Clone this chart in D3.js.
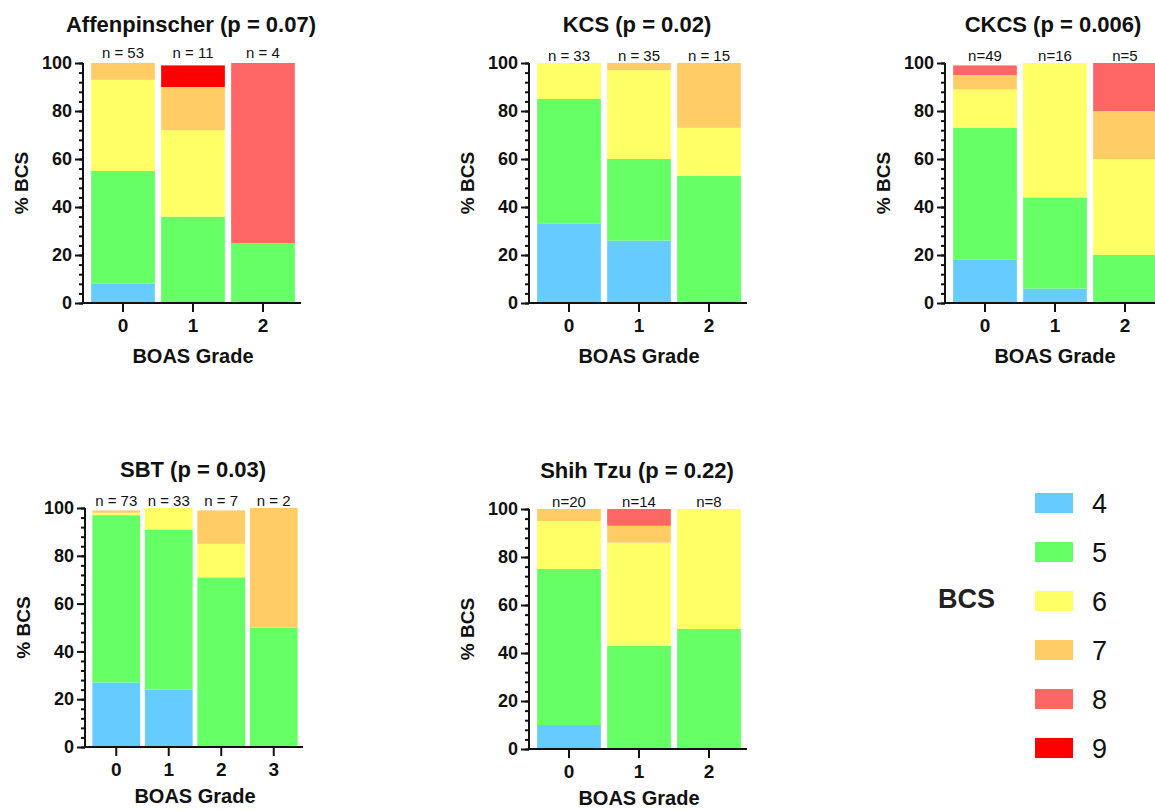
<!DOCTYPE html>
<html>
<head>
<meta charset="utf-8">
<script src="https://cdn.jsdelivr.net/npm/d3@7"></script>
<style>
  body { margin: 0; background: #fff; }
  svg { display: block; font-family: 'Liberation Sans', Arial, Helvetica, sans-serif; }
  .axis path, .axis line { stroke: #111; stroke-width: 2; }
  .axis text { font-family: 'Liberation Sans', Arial, Helvetica, sans-serif; font-weight: bold; fill: #111; }
  .y-axis text { font-size: 18px; }
  .x-axis text { font-size: 19px; }
</style>
</head>
<body>
<div id="chart"></div>
<script>
// BCS categories and their colours
const bcsLevels = ['4', '5', '6', '7', '8', '9']
const bcsColors = ['#66ccff', '#66ff66', '#ffff66', '#ffcc66', '#ff6666', '#ff0000']
const yTicks = [0, 20, 40, 60, 80, 100]

// percentages per BOAS grade, in order BCS 4..9
const affenGrades = ['0', '1', '2']
const affenN = ['n = 53', 'n = 11', 'n = 4']
const affenValues = [
  [8, 47, 38, 7, 0, 0],
  [0, 36, 36, 18, 0, 9],
  [0, 25, 0, 0, 75, 0]
]

const kcsGrades = ['0', '1', '2']
const kcsN = ['n = 33', 'n = 35', 'n = 15']
const kcsValues = [
  [33, 52, 15, 0, 0, 0],
  [26, 34, 37, 3, 0, 0],
  [0, 53, 20, 27, 0, 0]
]

const ckcsGrades = ['0', '1', '2']
const ckcsN = ['n=49', 'n=16', 'n=5']
const ckcsValues = [
  [18, 55, 16, 6, 4, 0],
  [6, 38, 56, 0, 0, 0],
  [0, 20, 40, 20, 20, 0]
]

const sbtGrades = ['0', '1', '2', '3']
const sbtN = ['n = 73', 'n = 33', 'n = 7', 'n = 2']
const sbtValues = [
  [27, 70, 1, 1, 0, 0],
  [24, 67, 9, 0, 0, 0],
  [0, 71, 14, 14, 0, 0],
  [0, 50, 0, 50, 0, 0]
]

const shihGrades = ['0', '1', '2']
const shihN = ['n=20', 'n=14', 'n=8']
const shihValues = [
  [10, 65, 20, 5, 0, 0],
  [0, 43, 43, 7, 7, 0],
  [0, 50, 50, 0, 0, 0]
]

const panels = [
  { title: 'Affenpinscher (p = 0.07)', grades: affenGrades, n: affenN, values: affenValues, x: 83, top: 63, bottom: 303, nY: 58, xTitle: 60 },
  { title: 'KCS (p = 0.02)', grades: kcsGrades, n: kcsN, values: kcsValues, x: 529, top: 63, bottom: 303, nY: 61, xTitle: 60 },
  { title: 'CKCS (p = 0.006)', grades: ckcsGrades, n: ckcsN, values: ckcsValues, x: 945, top: 63, bottom: 303, nY: 61, xTitle: 60 },
  { title: 'SBT (p = 0.03)', grades: sbtGrades, n: sbtN, values: sbtValues, x: 85, top: 508, bottom: 747, nY: 506, xTitle: 56 },
  { title: 'Shih Tzu (p = 0.22)', grades: shihGrades, n: shihN, values: shihValues, x: 529, top: 509, bottom: 749, nY: 507, xTitle: 56 }
]

const svg = d3
  .select('#chart')
  .append('svg')
  .attr('width', 1155)
  .attr('height', 811)

const colorScale = d3.scaleOrdinal().domain(bcsLevels).range(bcsColors)

panels.forEach(p => {
  const g = svg.append('g')

  const xScale = d3
    .scaleBand()
    .domain(p.grades)
    .range([p.x + 5, p.x + 215])
    .paddingInner(0.09)
    .paddingOuter(0.045)

  const yScale = d3
    .scaleLinear()
    .domain([0, 100])
    .range([p.bottom, p.top])

  const rows = p.values.map((v, i) => {
    const row = { grade: p.grades[i] }
    bcsLevels.forEach((b, j) => { row[b] = v[j] })
    return row
  })

  const stacked = d3.stack().keys(bcsLevels)(rows)

  g.selectAll('.layer')
    .data(stacked)
    .enter()
    .append('g')
    .attr('fill', d => colorScale(d.key))
    .selectAll('rect')
    .data(d => d.filter(s => s[1] - s[0] > 0))
    .enter()
    .append('rect')
    .attr('x', d => xScale(d.data.grade))
    .attr('width', xScale.bandwidth())
    .attr('y', d => yScale(d[1]))
    .attr('height', d => yScale(d[0]) - yScale(d[1]))

  // n labels over each bar
  g.selectAll('.nlabel')
    .data(p.grades)
    .enter()
    .append('text')
    .attr('x', d => xScale(d) + xScale.bandwidth() / 2)
    .attr('y', p.nY)
    .attr('text-anchor', 'middle')
    .attr('font-size', 15)
    .attr('fill', '#111')
    .text((d, i) => p.n[i])

  // minor ticks every 4
  const yMinor = d3.axisLeft(yScale).tickValues(d3.range(0, 101, 4)).tickSize(4).tickFormat('')
  g.append('g')
    .attr('class', 'axis')
    .attr('transform', 'translate(' + p.x + ',0)')
    .call(yMinor)
    .call(a => a.select('.domain').remove())

  const yAxis = d3.axisLeft(yScale).tickValues(yTicks).tickSize(8).tickPadding(3)
  g.append('g')
    .attr('class', 'axis y-axis')
    .attr('transform', 'translate(' + p.x + ',0)')
    .call(yAxis)
    .call(a => a.select('.domain').attr('d', 'M0,' + p.bottom + 'V' + p.top))

  const xAxis = d3.axisBottom(xScale).tickSize(9).tickPadding(7)
  g.append('g')
    .attr('class', 'axis x-axis')
    .attr('transform', 'translate(0,' + p.bottom + ')')
    .call(xAxis)
    .call(a => a.select('.domain').attr('d', 'M' + p.x + ',0H' + (p.x + 218)))

  // titles
  g.append('text')
    .attr('x', p.x + 108)
    .attr('y', p.top - 31)
    .attr('text-anchor', 'middle')
    .attr('font-weight', 'bold')
    .attr('font-size', 22)
    .attr('fill', '#111')
    .text(p.title)

  g.append('text')
    .attr('x', p.x + 110)
    .attr('y', p.bottom + p.xTitle)
    .attr('text-anchor', 'middle')
    .attr('font-weight', 'bold')
    .attr('font-size', 20)
    .attr('fill', '#111')
    .text('BOAS Grade')

  g.append('text')
    .attr('transform', 'translate(' + (p.x - 55) + ',' + (p.top + p.bottom) / 2 + ') rotate(-90)')
    .attr('text-anchor', 'middle')
    .attr('font-weight', 'bold')
    .attr('font-size', 19)
    .attr('fill', '#111')
    .text('% BCS')
})

// legend
const legend = svg.append('g')
const legendY = d3.scalePoint().domain(bcsLevels).range([503, 748])

legend.selectAll('rect')
  .data(bcsLevels)
  .enter()
  .append('rect')
  .attr('x', 1035)
  .attr('y', d => legendY(d) - 10)
  .attr('width', 38)
  .attr('height', 20)
  .attr('fill', d => colorScale(d))

legend.selectAll('.lab')
  .data(bcsLevels)
  .enter()
  .append('text')
  .attr('x', 1092)
  .attr('y', d => legendY(d) + 10)
  .attr('font-size', 27)
  .attr('fill', '#111')
  .text(d => d)

legend.append('text')
  .attr('x', 938)
  .attr('y', 608)
  .attr('font-weight', 'bold')
  .attr('font-size', 27)
  .attr('fill', '#222')
  .text('BCS')
</script>
</body>
</html>
